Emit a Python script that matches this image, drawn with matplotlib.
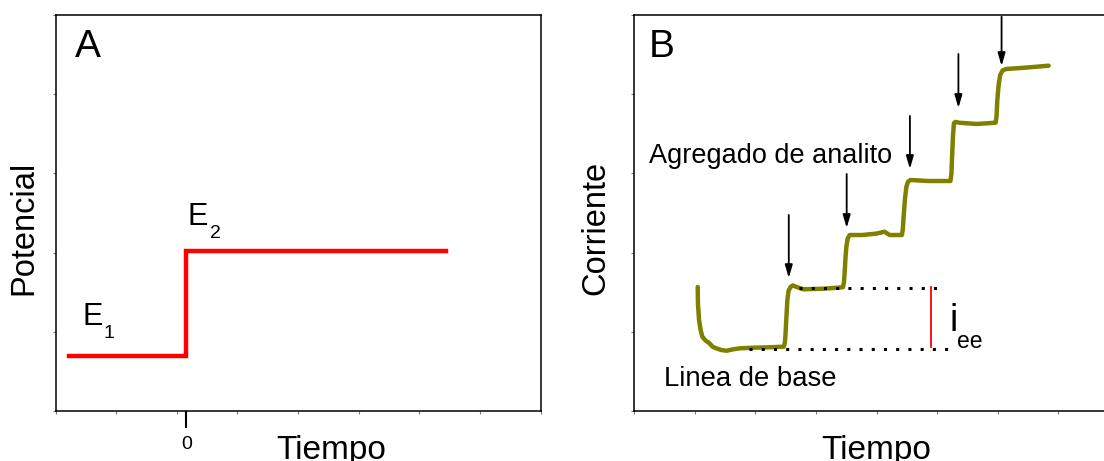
import numpy as np
import matplotlib
matplotlib.use('Agg')
import matplotlib.pyplot as plt

plt.rcParams['font.family'] = ['Liberation Sans', 'DejaVu Sans']

# Panel A: potential step
step_time = [-1.94, 0.0, 0.0, 4.28]
step_potential = [0.69, 0.69, 2.02, 2.02]

# Panel B: current response to analyte additions
curve_time = [1.051, 1.055, 1.073, 1.100, 1.127, 1.180, 1.238, 1.300, 1.353, 1.440,
              1.528, 1.640, 1.756, 2.000, 2.211, 2.472,
              2.490, 2.500, 2.515, 2.530, 2.550, 2.586, 2.620, 2.673, 2.789, 3.130, 3.446,
              3.462, 3.474, 3.490, 3.503, 3.525, 3.559, 3.761, 4.000, 4.132, 4.218, 4.419,
              4.435, 4.447, 4.470, 4.493, 4.520, 4.561, 4.848, 5.219,
              5.236, 5.249, 5.262, 5.277, 5.300, 5.363, 5.650, 5.965,
              5.980, 5.993, 6.015, 6.040, 6.080, 6.137, 6.452, 6.840]
curve_current = [1.566, 1.350, 1.149, 1.020, 0.938, 0.890, 0.859, 0.810, 0.792, 0.770,
                 0.761, 0.780, 0.792, 0.800, 0.804, 0.812,
                 0.870, 0.985, 1.200, 1.402, 1.520, 1.569, 1.585, 1.569, 1.537, 1.544, 1.562,
                 1.620, 1.739, 1.950, 2.074, 2.180, 2.222, 2.222, 2.240, 2.264, 2.222, 2.222,
                 2.300, 2.453, 2.680, 2.832, 2.895, 2.917, 2.904, 2.904,
                 3.000, 3.254, 3.480, 3.633, 3.650, 3.640, 3.624, 3.640,
                 3.720, 3.927, 4.120, 4.242, 4.300, 4.318, 4.335, 4.360]

# Addition arrows (x, y start, y end)
arrow_x = [2.553, 3.508, 4.551, 5.351, 6.063]
arrow_top = [2.475, 2.992, 3.725, 4.508, 4.979]
arrow_bottom = [1.679, 2.311, 3.056, 3.826, 4.356]

baseline_level = 0.783
baseline_span = [1.898, 5.215]
step_level = 1.549
step_span = [2.723, 5.078]
iee_x = 4.906

fig = plt.figure(figsize=(11.04, 4.61), dpi=100)
axA = fig.add_axes([55.5 / 1104, 50 / 461, 485 / 1104, 396 / 461])
axB = fig.add_axes([634 / 1104, 50 / 461, 485 / 1104, 396 / 461])


def style_axes(ax, xmin, xmax):
    ax.set_xlim(xmin, xmax)
    ax.set_ylim(0, 5)
    for s in ax.spines.values():
        s.set_linewidth(1.1)
        s.set_color('black')
    ax.set_xticks(np.linspace(xmin, xmax, 9), minor=True)
    ax.set_yticks(np.linspace(0, 5, 6), minor=True)
    ax.set_yticks([])
    ax.tick_params(which='minor', direction='out', length=2, width=0.8,
                   color='#777777', labelbottom=False, labelleft=False)


# ---- Panel A ----
style_axes(axA, -2.16, 5.84)
axA.set_xticks([0])
axA.set_xticklabels(['0'], fontsize=14)
axA.tick_params(which='major', axis='x', direction='out', length=12, width=1.5, pad=6)
axA.plot(step_time, step_potential, color='red', lw=3.2, solid_joinstyle='miter')
axA.text(-1.84, 4.596, 'A', fontsize=28, va='center', ha='left')
axA.text(-1.718, 1.086, 'E', fontsize=22, va='baseline', ha='left')
axA.text(-1.363, 0.922, '1', fontsize=14, va='baseline', ha='left')
axA.text(0.023, 2.348, 'E', fontsize=22, va='baseline', ha='left')
axA.text(0.386, 2.184, '2', fontsize=14, va='baseline', ha='left')
axA.set_ylabel('Potencial', fontsize=23.5)
axA.yaxis.set_label_coords(-0.034, 0.462)
axA.text(0.568, -0.121, 'Tiempo', fontsize=24, ha='center', va='baseline',
         transform=axA.transAxes)

# ---- Panel B ----
style_axes(axB, 0, 8)
axB.set_xticks([])
axB.plot(baseline_span, [baseline_level] * 2, color='black', lw=2.2,
         linestyle=(0, (1, 3)), zorder=3)
axB.plot(step_span, [step_level] * 2, color='black', lw=2.2,
         linestyle=(0, (1, 3)), zorder=3)
axB.plot(curve_time, curve_current, color='#808000', lw=3.2, zorder=2,
         solid_capstyle='round', solid_joinstyle='round')
axB.plot([iee_x, iee_x], [baseline_level + 0.025, step_level + 0.017],
         color='red', lw=1.3)
for x, y0, y1 in zip(arrow_x, arrow_top, arrow_bottom):
    axB.annotate('', xy=(x, y1), xytext=(x, y0),
                 arrowprops=dict(arrowstyle='-|>,head_length=0.55,head_width=0.16',
                                 mutation_scale=14, color='black', lw=1.3,
                                 shrinkA=0, shrinkB=0))
axB.text(0.24, 4.596, 'B', fontsize=28, va='center', ha='left')
axB.text(0.24, 3.135, 'Agregado de analito', fontsize=19.5, va='baseline', ha='left')
axB.text(0.495, 0.319, 'Linea de base', fontsize=19.8, va='baseline', ha='left')
axB.text(5.21, 1.01, 'i', fontsize=27, va='baseline', ha='left')
axB.text(5.33, 0.80, 'ee', fontsize=16.5, va='baseline', ha='left')
axB.set_ylabel('Corriente', fontsize=23.5)
axB.yaxis.set_label_coords(-0.046, 0.462)
axB.text(0.5, -0.121, 'Tiempo', fontsize=24, ha='center', va='baseline',
         transform=axB.transAxes)

plt.savefig('out.png', dpi=100)
